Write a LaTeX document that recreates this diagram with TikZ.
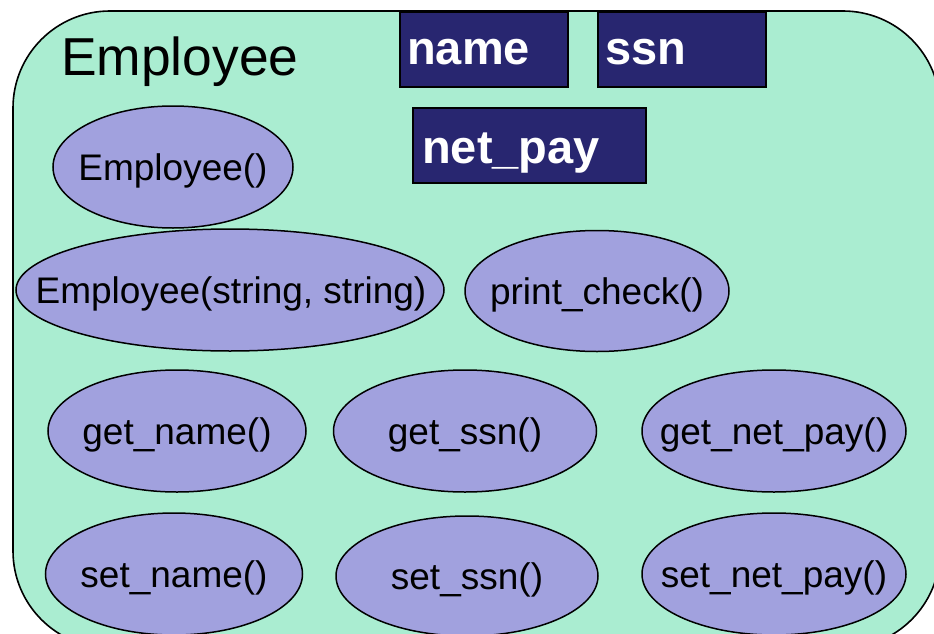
\documentclass[tikz,border=0pt]{standalone}
\usepackage{fontspec}
\setmainfont{Liberation Sans}
\usetikzlibrary{shapes.geometric}
\definecolor{mint}{RGB}{170,237,209}
\definecolor{lav}{RGB}{161,161,222}
\definecolor{navy}{RGB}{40,38,112}
\tikzset{
  method/.style={ellipse, draw=black, line width=1.5pt, fill=lav, inner sep=0pt},
  methodtext/.style={anchor=base, inner sep=0pt, text=black, font=\fontsize{37}{40}\selectfont},
  attrbox/.style={rectangle, draw=black, line width=1.5pt, fill=navy, inner sep=0pt, anchor=north west},
  attrtext/.style={anchor=base west, inner sep=0pt, text=white, font=\fontsize{47}{50}\selectfont\bfseries},
  classbox/.style={draw=black, line width=1.6pt, fill=mint, rounded corners=97pt}
}
\begin{document}
\begin{tikzpicture}[x=1pt,y=-1pt]
\useasboundingbox (0,0) rectangle (934,634);
\fill[white] (0,0) rectangle (934,634);
\clip (0,0) rectangle (934,634);
\draw[classbox] (13,11) rectangle (940,648);
\node[anchor=base west, inner sep=0pt, font=\fontsize{53.4}{56}\selectfont] (title) at (61,75) {Employee};
% attribute boxes
\node[attrbox, minimum width=168pt, minimum height=74pt] (namebox) at (399,12) {};
\node[attrtext] (nametext) at (407,65) {name};
\node[attrbox, minimum width=168pt, minimum height=74pt] (ssnbox) at (597,12) {};
\node[attrtext] (ssntext) at (605,65) {ssn};
\node[attrbox, minimum width=233pt, minimum height=75pt] (netbox) at (412,107) {};
\node[attrtext] (nettext) at (422,163) {net\_pay};
% methods
\node[method, minimum width=240pt, minimum height=122pt] (ctor0) at (173,167) {};
\node[methodtext] (ctor0t) at (173,180) {Employee()};
\node[method, minimum width=428pt, minimum height=122pt] (ctor2) at (230,290) {};
\node[methodtext] (ctor2t) at (231,303) {Employee(string, string)};
\node[method, minimum width=264pt, minimum height=121pt] (print) at (597,291) {};
\node[methodtext] (printt) at (597,304) {print\_check()};
\node[method, minimum width=258pt, minimum height=122pt] (getname) at (177,431) {};
\node[methodtext] (getnamet) at (177,444) {get\_name()};
\node[method, minimum width=263pt, minimum height=122pt] (getssn) at (465,431) {};
\node[methodtext] (getssnt) at (465,444) {get\_ssn()};
\node[method, minimum width=264pt, minimum height=122pt] (getnet) at (774,431) {};
\node[methodtext] (getnett) at (774,444) {get\_net\_pay()};
\node[method, minimum width=257pt, minimum height=122pt] (setname) at (174,574) {};
\node[methodtext] (setnamet) at (174,587) {set\_name()};
\node[method, minimum width=262pt, minimum height=120pt] (setssn) at (467,576) {};
\node[methodtext] (setssnt) at (467,589) {set\_ssn()};
\node[method, minimum width=264pt, minimum height=122pt] (setnet) at (774,574) {};
\node[methodtext] (setnett) at (774,587) {set\_net\_pay()};
\end{tikzpicture}
\end{document}
